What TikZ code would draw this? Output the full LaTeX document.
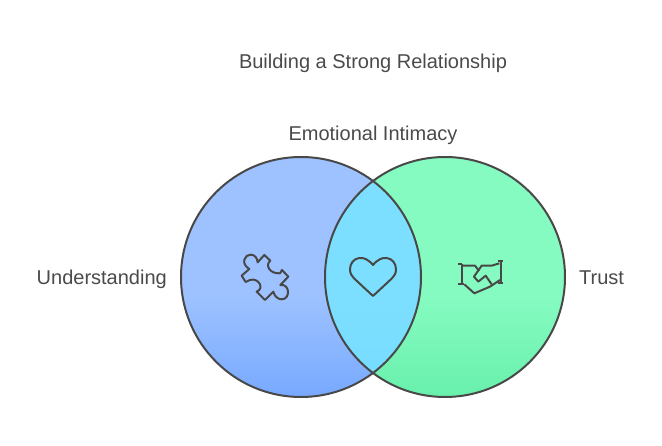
\documentclass[tikz,border=0pt]{standalone}
\usepackage{xcolor}
\usepackage{fontspec}
\setmainfont{Liberation Sans}
\usetikzlibrary{positioning}
\definecolor{InkGray}{HTML}{484848}
\definecolor{TextGray}{HTML}{4A4A4A}
\definecolor{BlueTop}{HTML}{9DC2FF}
\definecolor{BlueLow}{HTML}{78A9FF}
\definecolor{GreenTop}{HTML}{86FBC1}
\definecolor{GreenLow}{HTML}{68F0AC}
\definecolor{LensTop}{HTML}{7DDFFF}
\definecolor{LensLow}{HTML}{74DCFF}
\pgfdeclareverticalshading{bluefade}{100bp}{color(0bp)=(BlueLow);color(25bp)=(BlueLow);color(46bp)=(BlueTop);color(100bp)=(BlueTop)}
\pgfdeclareverticalshading{greenfade}{100bp}{color(0bp)=(GreenLow);color(25bp)=(GreenLow);color(46bp)=(GreenTop);color(100bp)=(GreenTop)}
\pgfdeclareverticalshading{lensfade}{100bp}{color(0bp)=(LensLow);color(25bp)=(LensLow);color(46bp)=(LensTop);color(100bp)=(LensTop)}

\begin{document}
\begin{tikzpicture}[
  x=1pt,y=-1pt,
  disc/.style={circle,minimum size=240pt,inner sep=0pt,outer sep=0pt},
  rim/.style={draw=InkGray,line width=2pt},
  caption/.style={text=TextGray,font=\fontsize{20}{24}\selectfont,inner sep=0pt,text height=14.5pt,text depth=0pt},
  glyph/.style={draw=InkGray,line width=2pt,line join=round}
]
  \useasboundingbox (0,0) rectangle (662,446);

  \node[disc,shading=bluefade] (under) at (301,277) {};
  \node[disc,shading=greenfade] (trust) at (445,277) {};
  \begin{scope}
    \clip (445,277) circle (120pt);
    \node[disc,shading=lensfade] (lens) at (under) {};
  \end{scope}
  \node[disc,rim] (underrim) at (under) {};
  \node[disc,rim] (trustrim) at (trust) {};

  \node[caption,left=14pt of underrim] (underlbl) {Understanding};
  \node[caption,right=14pt of trustrim] (trustlbl) {Trust};
  \node[caption] (intimacy) at (373,133) {Emotional Intimacy};
  \node[caption] (title) at (373,61) {Building a Strong Relationship};

  % puzzle piece
  \begin{scope}[shift={(230,240)},x=0.3333pt,y=-0.3333pt]
    \draw[glyph] (58,87) .. controls (30,70) and (45,43) .. (62,44)
      .. controls (75,44) and (82,55) .. (83,67) -- (103,45) -- (121,62)
      .. controls (105,75) and (118,102) .. (150,100) -- (156,90) -- (175,110) -- (151,135)
      .. controls (180,130) and (182,178) .. (155,178)
      .. controls (143,178) and (133,168) .. (130,155) -- (105,180) -- (80,155)
      .. controls (105,145) and (85,112) .. (60,120) -- (47,126) -- (35,107) -- cycle;
  \end{scope}
  % heart
  \begin{scope}[shift={(340,240)},x=0.3333pt,y=-0.3333pt]
    \draw[glyph] (99,75) .. controls (85,58) and (70,52) .. (58,54)
      .. controls (40,56) and (30,72) .. (30,88)
      .. controls (30,100) and (35,108) .. (42,115) -- (99,168) -- (156,115)
      .. controls (163,108) and (168,100) .. (168,88)
      .. controls (168,72) and (158,56) .. (140,54)
      .. controls (128,52) and (113,58) .. (99,75) -- cycle;
  \end{scope}
  % handshake
  \begin{scope}[shift={(445,245)},x=0.3333pt,y=-0.3333pt]
    \draw[glyph] (40,58) -- (52,58) (52,58) -- (52,118) (40,118) -- (58,118);
    \draw[glyph] (160,47) -- (175,47) (167,47) -- (167,113) (160,113) -- (175,113);
    \draw[glyph] (52,62) -- (90,62) -- (102,78);
    \draw[glyph] (58,118) -- (88,145) -- (135,125) -- (165,105);
    \draw[glyph] (163,55) -- (140,62) -- (110,62) -- (87,95) -- (100,110) -- (122,92) -- (140,118);
  \end{scope}
\end{tikzpicture}
\end{document}
